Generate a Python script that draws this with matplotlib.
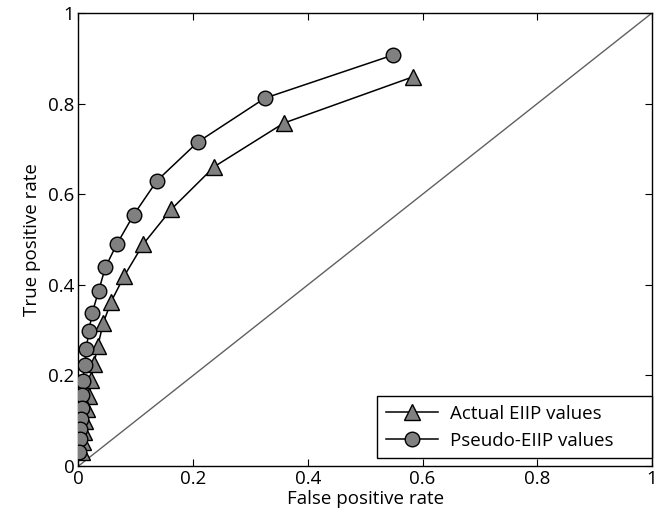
"""ROC curves: actual EIIP vs pseudo-EIIP values."""

import matplotlib

matplotlib.use("Agg")

import matplotlib.pyplot as plt

# false/true positive rates
actual_fpr = [0.583, 0.358, 0.237, 0.162, 0.113, 0.080, 0.057, 0.043, 0.034,
              0.027, 0.022, 0.019, 0.015, 0.012, 0.010, 0.008, 0.006]
actual_tpr = [0.859, 0.757, 0.661, 0.567, 0.490, 0.420, 0.363, 0.315, 0.266,
              0.226, 0.190, 0.155, 0.125, 0.100, 0.075, 0.052, 0.030]

pseudo_fpr = [0.548, 0.325, 0.208, 0.137, 0.096, 0.067, 0.047, 0.035, 0.024,
              0.018, 0.0135, 0.011, 0.0075, 0.0070, 0.0055, 0.004, 0.003,
              0.002, 0.001]
pseudo_tpr = [0.907, 0.812, 0.715, 0.630, 0.554, 0.490, 0.439, 0.386, 0.338,
              0.297, 0.258, 0.224, 0.188, 0.157, 0.127, 0.103, 0.081,
              0.059, 0.032]

diag = [0, 1]
ticks = [0, 0.2, 0.4, 0.6, 0.8, 1]
tick_labels = ["0", "0.2", "0.4", "0.6", "0.8", "1"]

plt.rcParams["font.family"] = ["Open Sans", "DejaVu Sans"]

fig = plt.figure(figsize=(6.69, 5.2), dpi=100)
ax = fig.add_axes([0.1173, 0.1038, 0.8573, 0.8712])

ax.plot(diag, diag, color="#606060", linewidth=1.0, zorder=1)
ax.plot(actual_fpr, actual_tpr, "-^", color="black", linewidth=1.1,
        markersize=11, markerfacecolor="#808080", markeredgecolor="black",
        markeredgewidth=1.0, label="Actual EIIP values", zorder=2)
ax.plot(pseudo_fpr, pseudo_tpr, "-o", color="black", linewidth=1.1,
        markersize=10.5, markerfacecolor="#808080", markeredgecolor="black",
        markeredgewidth=1.0, label="Pseudo-EIIP values", zorder=3)

ax.set_xlim(0, 1)
ax.set_ylim(0, 1)
ax.set_xticks(ticks)
ax.set_xticklabels(tick_labels)
ax.set_yticks(ticks)
ax.set_yticklabels(tick_labels)
ax.tick_params(direction="in", length=5, top=True, right=True,
               labelsize=13.5, pad=3)
for spine in ax.spines.values():
    spine.set_linewidth(1.0)

ax.set_xlabel("False positive rate", fontsize=13.5, labelpad=1)
ax.set_ylabel("True positive rate", fontsize=13.5, labelpad=5)

# wide, MATLAB-like legend box in the lower right corner
leg = ax.legend(loc="lower left", bbox_to_anchor=(0.521, 0.017, 0.479, 0.1),
                mode="expand", fontsize=13.5, fancybox=False, framealpha=1,
                edgecolor="black", borderpad=0.45, labelspacing=0.5,
                handlelength=2.8, handletextpad=0.65, borderaxespad=0)
leg.get_frame().set_linewidth(1.0)

fig.savefig("out.png", dpi=100)
plt.close(fig)
